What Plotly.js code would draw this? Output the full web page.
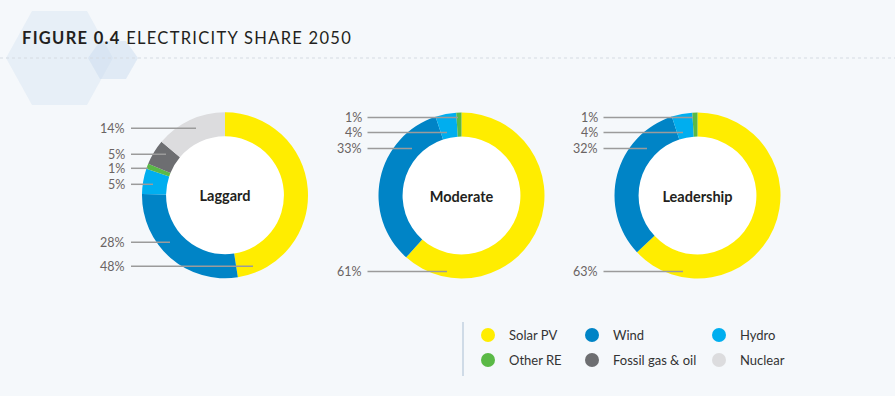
<!DOCTYPE html>
<html>
<head>
<meta charset="utf-8">
<script src="https://cdn.plot.ly/plotly-3.0.1.min.js"></script>
<style>
  html, body { margin: 0; padding: 0; background: #f5f8fb; }
  #chart { width: 895px; height: 396px; }
  .gtitle { letter-spacing: 1.3px; }
</style>
</head>
<body>
<div id="chart"></div>
<script>
// ---- DATA ----
const categories = ['Solar PV', 'Wind', 'Hydro', 'Other RE', 'Fossil gas & oil', 'Nuclear'];
const scenarios = ['Laggard', 'Moderate', 'Leadership'];
const laggardShare = [48, 28, 5, 1, 5, 14];
const moderateShare = [61, 33, 4, 1, 0, 0];
const leadershipShare = [63, 32, 4, 1, 0, 0];
const titleBold = 'FIGURE 0.4';
const titleRest = 'ELECTRICITY SHARE 2050';

// ---- STYLE / LAYOUT ----
const W = 895, H = 396;
const px = x => x / W;
const py = y => 1 - y / H;
const colors = ['#ffed00', '#0084c6', '#00aeef', '#5ab946', '#6d6e71', '#dcdcde'];
const R = 83, HOLE = 0.71;
const centers = [{cx: 225, cy: 195.3}, {cx: 461.5, cy: 195.5}, {cx: 697.5, cy: 195.5}];
// leader label placement per scenario, per category: [dy of label, x offset of line end]
const labelPos = [
  [[71, 28], [47, -55], [-11, -72], [-27, -77], [-41, -59], [-67, -29]],
  [[76, -14.5], [-47, -49.5], [-63, -14.5], [-78, -3.5], null, null],
  [[76, -14.5], [-47, -50.5], [-63, -14.5], [-78, -4.5], null, null]
];
const seriesList = [laggardShare, moderateShare, leadershipShare];

const traces = [];
const shapes = [];
const annotations = [];

// decorative hexagons & dotted rule
function hexPath(pts) {
  return 'M' + pts.map(p => px(p[0]) + ',' + py(p[1])).join('L') + 'Z';
}
shapes.push({type: 'path', xref: 'paper', yref: 'paper', layer: 'below',
  path: hexPath([[6, 58], [32, 11], [87, 11], [113, 58], [87, 105], [32, 105]]),
  fillcolor: 'rgba(214,228,242,0.45)', line: {width: 0}});
shapes.push({type: 'path', xref: 'paper', yref: 'paper', layer: 'below',
  path: hexPath([[88, 58], [100, 41], [126, 41], [138, 58], [126, 79], [100, 79]]),
  fillcolor: 'rgba(200,218,238,0.45)', line: {width: 0}});
shapes.push({type: 'line', xref: 'paper', yref: 'paper', layer: 'below',
  x0: 0, x1: 1, y0: py(58), y1: py(58), line: {color: '#d5dbe2', width: 1, dash: 'dot'}});

scenarios.forEach((name, i) => {
  const c = centers[i];
  const vals = seriesList[i];
  const idx = vals.map((v, k) => k).filter(k => vals[k] > 0);
  traces.push({
    type: 'pie',
    labels: idx.map(k => categories[k]),
    values: idx.map(k => vals[k]),
    marker: {colors: idx.map(k => colors[k]), line: {width: 0}},
    hole: HOLE,
    sort: false,
    direction: 'clockwise',
    rotation: 0,
    textinfo: 'none',
    hoverinfo: 'none',
    showlegend: false,
    domain: {x: [px(c.cx - R), px(c.cx + R)], y: [py(c.cy + R), py(c.cy - R)]},
    title: {text: '<b>' + name + '</b>', position: 'middle center',
      font: {family: 'Lato', size: 14.5, color: '#231f20'}}
  });
  // white inner disc
  const ri = R * HOLE + 1;
  shapes.push({type: 'circle', xref: 'paper', yref: 'paper', layer: 'below',
    x0: px(c.cx - ri), x1: px(c.cx + ri), y0: py(c.cy + ri), y1: py(c.cy - ri),
    fillcolor: '#ffffff', line: {width: 0}});
  // leader labels
  vals.forEach((v, k) => {
    const lp = labelPos[i][k];
    if (!lp || v <= 0) return;
    const y = c.cy + lp[0];
    shapes.push({type: 'line', xref: 'paper', yref: 'paper', layer: 'above',
      x0: px(c.cx - 94), x1: px(c.cx + lp[1]), y0: py(y), y1: py(y),
      line: {color: '#9b9b9b', width: 1.5}});
    annotations.push({xref: 'paper', yref: 'paper', x: px(c.cx - 98), y: py(y),
      xanchor: 'right', yanchor: 'middle', showarrow: false, text: v + '%',
      font: {family: 'Lato', size: 12.5, color: '#6a6463'}});
  });
});

// manual legend
const legCols = [488, 592, 719];
const legRows = [335, 360];
shapes.push({type: 'line', xref: 'paper', yref: 'paper', layer: 'below',
  x0: px(463), x1: px(463), y0: py(322), y1: py(376), line: {color: '#cfdbe7', width: 2}});
categories.forEach((cat, k) => {
  const cx = legCols[k % 3], cy = legRows[Math.floor(k / 3)];
  const r = 7;
  shapes.push({type: 'circle', xref: 'paper', yref: 'paper',
    x0: px(cx - r), x1: px(cx + r), y0: py(cy + r), y1: py(cy - r),
    fillcolor: colors[k], line: {width: 0}});
  annotations.push({xref: 'paper', yref: 'paper', x: px(cx + 19), y: py(cy),
    xanchor: 'left', yanchor: 'middle', showarrow: false, text: cat,
    font: {family: 'Lato', size: 13, color: '#333333'}});
});

const layout = {
  width: W, height: H,
  margin: {l: 0, r: 0, t: 0, b: 0},
  paper_bgcolor: '#f5f8fb',
  plot_bgcolor: '#f5f8fb',
  title: {text: '<b>' + titleBold + '</b> ' + titleRest, x: px(22), xanchor: 'left',
    y: py(38), yanchor: 'middle', xref: 'paper', yref: 'paper',
    font: {family: 'Lato', size: 16.5, color: '#231f20'}},
  shapes: shapes,
  annotations: annotations,
  showlegend: false
};

Plotly.newPlot('chart', traces, layout, {displayModeBar: false, staticPlot: true});
</script>
</body>
</html>
